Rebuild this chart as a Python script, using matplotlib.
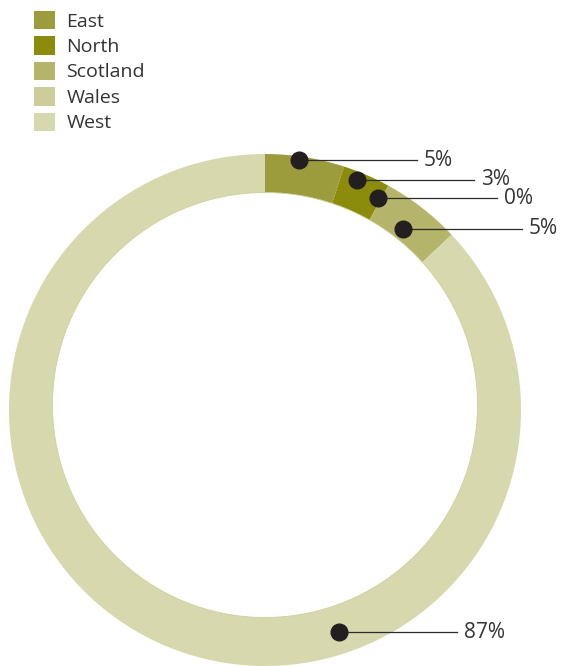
import numpy as np
import matplotlib
matplotlib.use("Agg")
from matplotlib import pyplot as plt
from matplotlib.patches import Patch, Circle

plt.rcParams['font.family'] = ['Open Sans', 'DejaVu Sans']

# data
regions = ['East', 'North', 'Scotland', 'Wales', 'West']
shares = [5, 3, 5, 0, 87]
colors = ['#9d9c3d', '#8b8c0b', '#b4b46a', '#cdcd9b', '#d7d8ae']

# callouts, in drawing order (top to bottom)
callout_labels = ['5%', '3%', '0%', '5%', '87%']
callout_angle = [7.7, 21.8, 28.1, 37.3, 161.6]    # degrees clockwise from 12 o'clock
callout_radius = [252, 248, 240, 228, 234]         # px from centre
callout_line_end = [417, 474, 497, 522, 457]       # px

W, H = 561, 666
cx, cy = 265, 410          # outer ring centre (px, y down)
R = 256
hole_cy, hole_r = 405, 212.5   # the hole sits a little higher than the ring

fig = plt.figure(figsize=(W / 100, H / 100), dpi=100)
ax = fig.add_axes([0, 0, 1, 1])

ax.pie(shares, colors=colors, startangle=90, counterclock=False,
       radius=R, center=(cx, H - cy), frame=True,
       wedgeprops=dict(width=80, linewidth=0))
ax.add_patch(Circle((cx, H - hole_cy), hole_r, facecolor='white',
                    edgecolor='#cfd09c', lw=0.6, zorder=2))

for lab, ang, rad, xend in zip(callout_labels, callout_angle, callout_radius, callout_line_end):
    a = np.deg2rad(ang)
    x = cx + rad * np.sin(a)
    y = (H - cy) + rad * np.cos(a)
    ax.plot([x, xend], [y, y], color='#2b2b2b', lw=0.9, zorder=3)
    ax.plot(x, y, 'o', color='#231f20', markersize=12, zorder=4)
    ax.text(xend + 7, y, lab, fontsize=15, color='#333333', va='center', ha='left')

ax.set_xlim(0, W)
ax.set_ylim(0, H)
ax.set_aspect('equal')
ax.axis('off')

handles = [Patch(facecolor=c, edgecolor='none') for c in colors]
fig.legend(handles, regions, loc='upper left', bbox_to_anchor=(24 / W, 1 - 1 / H),
           frameon=False, fontsize=14, handlelength=1.08, handleheight=1.08,
           handletextpad=0.6, labelspacing=0.29, borderpad=0.0,
           labelcolor='#333333')

plt.savefig('out.png', dpi=100)
